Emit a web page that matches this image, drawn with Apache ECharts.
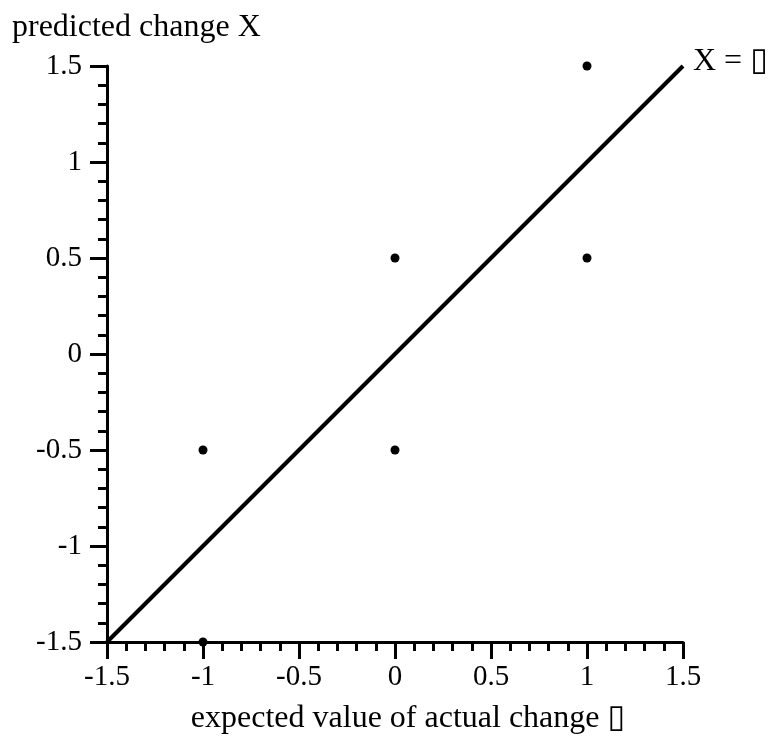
<!DOCTYPE html>
<html>
<head>
<meta charset="utf-8">
<script src="https://cdn.jsdelivr.net/npm/echarts@6/dist/echarts.min.js"></script>
<style>
  html, body { margin: 0; padding: 0; background: #fff; }
  #main { width: 774px; height: 745px; }
</style>
</head>
<body>
<div id="main"></div>
<script>
var FONT = '"Liberation Serif", "Times New Roman", "DejaVu Serif", serif';

// data
var pointX = [1, 1, 0, 0, -1, -1];
var pointY = [1.5, 0.5, 0.5, -0.5, -0.5, -1.5];
var diagX = [-1.5, 1.5];
var diagY = [-1.5, 1.5];
var axisMin = -1.5;
var axisMax = 1.5;
var axisStep = 0.5;

var chart = echarts.init(document.getElementById('main'));

var points = pointX.map(function (x, i) { return [x, pointY[i]]; });
var diag = diagX.map(function (x, i) { return [x, diagY[i]]; });

function axis(extra) {
  var base = {
    type: 'value',
    min: axisMin,
    max: axisMax,
    interval: axisStep,
    axisLine: { show: true, onZero: false, lineStyle: { color: '#000', width: 3 } },
    axisTick: { show: true, length: 17, lineStyle: { color: '#000', width: 3 } },
    minorTick: { show: true, splitNumber: 5, length: 9, lineStyle: { color: '#000', width: 3 } },
    splitLine: { show: false },
    axisLabel: { color: '#000', fontFamily: FONT, fontSize: 29 }
  };
  return Object.assign(base, extra);
}

var option = {
  animation: false,
  title: {
    text: 'predicted change X',
    left: 7,
    top: 7,
    textStyle: { color: '#000', fontFamily: FONT, fontSize: 32, fontWeight: 'normal' }
  },
  grid: { left: 107, right: 91, top: 66, bottom: 103 },
  xAxis: axis({
    name: 'expected value of actual change \u25AF',
    nameLocation: 'middle',
    nameGap: 61,
    nameTextStyle: { color: '#000', fontFamily: FONT, fontSize: 32, padding: [0, 0, 0, 26] },
    axisLabel: { color: '#000', fontFamily: FONT, fontSize: 29, margin: 21 }
  }),
  yAxis: axis({
    axisLabel: { color: '#000', fontFamily: FONT, fontSize: 29, margin: 25 }
  }),
  series: [
    {
      type: 'line',
      data: diag,
      symbol: 'none',
      lineStyle: { color: '#000', width: 4 },
      clip: false,
      endLabel: {
        show: true,
        formatter: 'X = \u25AF',
        color: '#000',
        fontFamily: FONT,
        fontSize: 32,
        distance: 10,
        offset: [0, -4]
      }
    },
    {
      type: 'scatter',
      data: points,
      symbol: 'circle',
      symbolSize: 9,
      itemStyle: { color: '#000', opacity: 1 },
      clip: false
    }
  ]
};

chart.setOption(option);
</script>
</body>
</html>
